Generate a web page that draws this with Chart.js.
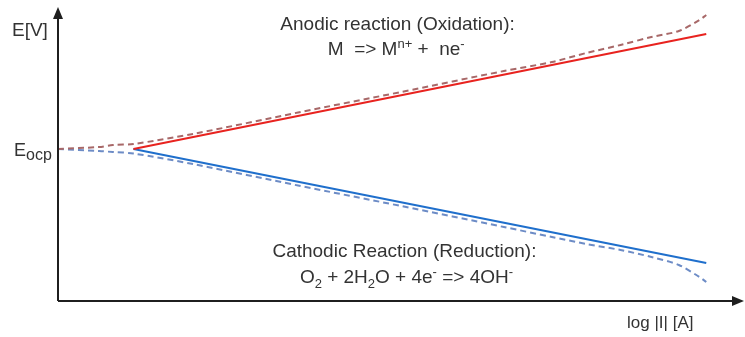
<!DOCTYPE html>
<html>
<head>
<meta charset="utf-8">
<script src="https://cdn.jsdelivr.net/npm/chart.js@4/dist/chart.umd.min.js"></script>
<style>
  html, body { margin: 0; padding: 0; background: #fff; }
  #wrap { width: 745px; height: 337px; }
</style>
</head>
<body>
<div id="wrap"><canvas id="chart" width="745" height="337"></canvas></div>
<script>
// log|I| (arbitrary units) and E relative to Eocp
const anodicX = [1.1, 9.45];
const anodicE = [0, 1.15];
const anodicMeasX = [0, 0.6, 0.8, 1.1, 2, 3.5, 5, 6.5, 7.2, 7.7, 8.2, 8.65, 9.05, 9.35, 9.45];
const anodicMeasE = [0, 0.02, 0.04, 0.05, 0.155, 0.365, 0.57, 0.78, 0.87, 0.96, 1.04, 1.12, 1.18, 1.29, 1.34];

const cathodicX = [1.1, 9.45];
const cathodicE = [0, -1.14];
const cathodicMeasX = [0, 0.6, 0.8, 1.1, 2, 3.5, 5, 6.5, 7.2, 7.7, 8.2, 8.65, 9.05, 9.35, 9.45];
const cathodicMeasE = [0, -0.02, -0.03, -0.045, -0.155, -0.365, -0.57, -0.78, -0.88, -0.95, -1.01, -1.08, -1.16, -1.28, -1.33];

const X_MIN = 0, X_MAX = 10;
const E_MIN = -1.52, E_MAX = 1.42;

const yTitle = 'E[V]';
const xTitle = 'log |I| [A]';
const eocpLabel = [['E', 0], ['ocp', -1]];
const anodicTitle = [['Anodic reaction (Oxidation):', 0]];
const anodicEq = [['M  => M', 0], ['n+', 1], [' +  ne', 0], ['-', 1]];
const cathodicTitle = [['Cathodic Reaction (Reduction):', 0]];
const cathodicEq = [['O', 0], ['2', -1], [' + 2H', 0], ['2', -1], ['O + 4e', 0], ['-', 1], [' => 4OH', 0], ['-', 1]];

const pts = (xs, ys) => xs.map((x, i) => ({ x, y: ys[i] }));
const FONT = '"Liberation Sans", Arial, sans-serif';
const TEXT = '#333';
const AXIS = '#1f1f1f';

// draws a run of normal/sup/sub pieces; align 'center' or 'left'
function richText(ctx, parts, x, y, size, align, opts = {}) {
  const scale = opts.scale || 0.7;
  const subDrop = opts.subDrop ?? size * 0.28;
  const small = Math.round(size * scale);
  const fontFor = s => (s === 0 ? size : small) + 'px ' + FONT;
  let w = 0;
  parts.forEach(([t, s]) => { ctx.font = fontFor(s); w += ctx.measureText(t).width; });
  let cx = align === 'center' ? x - w / 2 : x;
  ctx.fillStyle = TEXT;
  ctx.textBaseline = 'alphabetic';
  ctx.textAlign = 'left';
  parts.forEach(([t, s]) => {
    ctx.font = fontFor(s);
    const dy = s === 1 ? -size * 0.38 : s === -1 ? subDrop : 0;
    ctx.fillText(t, cx, y + dy);
    cx += ctx.measureText(t).width;
  });
}

const sketchPlugin = {
  id: 'sketch',
  afterDraw(chart) {
    const { ctx, chartArea: a, scales: { x, y } } = chart;
    ctx.save();
    // axes with arrow heads
    ctx.strokeStyle = AXIS;
    ctx.fillStyle = AXIS;
    ctx.lineWidth = 2;
    ctx.beginPath();
    ctx.moveTo(a.left, a.bottom);
    ctx.lineTo(a.left, a.top + 8);
    ctx.moveTo(a.left, a.bottom);
    ctx.lineTo(a.right - 8, a.bottom);
    ctx.stroke();
    ctx.beginPath();
    ctx.moveTo(a.left, a.top);
    ctx.lineTo(a.left - 5, a.top + 12);
    ctx.lineTo(a.left + 5, a.top + 12);
    ctx.closePath();
    ctx.fill();
    ctx.beginPath();
    ctx.moveTo(a.right, a.bottom);
    ctx.lineTo(a.right - 12, a.bottom - 5);
    ctx.lineTo(a.right - 12, a.bottom + 5);
    ctx.closePath();
    ctx.fill();

    // labels
    richText(ctx, [[yTitle, 0]], 12, 36, 19, 'left');
    richText(ctx, eocpLabel, 14, y.getPixelForValue(0) + 7, 18, 'left', { scale: 0.87, subDrop: 4 });
    richText(ctx, [[xTitle, 0]], 627, 328, 17, 'left');
    richText(ctx, anodicTitle, x.getPixelForValue(4.95), y.getPixelForValue(1.19), 19, 'center');
    richText(ctx, anodicEq, x.getPixelForValue(4.93), y.getPixelForValue(0.94), 19, 'center');
    richText(ctx, cathodicTitle, x.getPixelForValue(5.05), y.getPixelForValue(-1.08), 19, 'center');
    richText(ctx, cathodicEq, x.getPixelForValue(5.08), y.getPixelForValue(-1.34), 19, 'center');
    ctx.restore();
  }
};

new Chart(document.getElementById('chart'), {
  type: 'scatter',
  data: {
    datasets: [
      { data: pts(anodicMeasX, anodicMeasE), borderColor: '#a86868', borderDash: [6, 4], borderWidth: 2, showLine: true, pointRadius: 0, tension: 0.3 },
      { data: pts(cathodicMeasX, cathodicMeasE), borderColor: '#6d8cc6', borderDash: [6, 4], borderWidth: 2, showLine: true, pointRadius: 0, tension: 0.3 },
      { data: pts(anodicX, anodicE), borderColor: '#e8231f', borderWidth: 2, showLine: true, pointRadius: 0 },
      { data: pts(cathodicX, cathodicE), borderColor: '#1f6fcc', borderWidth: 2, showLine: true, pointRadius: 0 }
    ]
  },
  options: {
    responsive: false,
    animation: false,
    layout: { padding: { left: 58, right: 1, top: 7, bottom: 36 } },
    plugins: { legend: { display: false }, tooltip: { enabled: false } },
    scales: {
      x: { type: 'linear', min: X_MIN, max: X_MAX, display: false },
      y: { type: 'linear', min: E_MIN, max: E_MAX, display: false }
    }
  },
  plugins: [sketchPlugin]
});
</script>
</body>
</html>
